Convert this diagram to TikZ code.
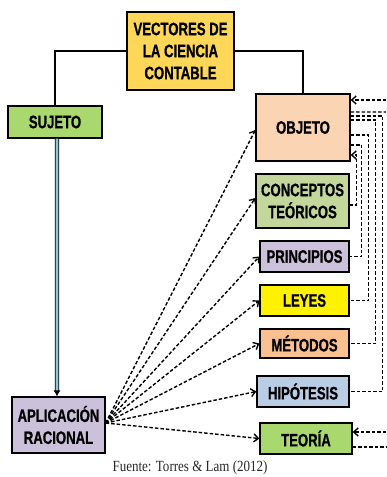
\documentclass[tikz,border=0pt]{standalone}
\usepackage{fontspec}
\setmainfont{Liberation Serif}
\newfontfamily\boxfont{Liberation Sans}[FakeStretch=0.73, FakeBold=0.8]
\newfontfamily\capfont{Liberation Serif}[FakeStretch=0.84]
\usetikzlibrary{arrows.meta,calc}
\definecolor{cgold}{HTML}{FFD758}
\definecolor{cgreen}{HTML}{A9D86E}
\definecolor{clav}{HTML}{CCC1DA}
\definecolor{cpeach}{HTML}{FBD4B4}
\definecolor{colive}{HTML}{C3D69B}
\definecolor{corange}{HTML}{FAC08F}
\definecolor{cblue}{HTML}{B9CDE5}
\definecolor{cstem}{HTML}{93C5D8}
\begin{document}
\begin{tikzpicture}[x=1bp,y=-1bp,
  box/.style={draw=black, line width=1.3bp, inner sep=0pt, align=center,
    font=\boxfont\bfseries\fontsize{18bp}{22bp}\selectfont},
  plain/.style={draw=black, line width=1.2bp},
  dl/.style={draw=black, line width=1.4bp, dash pattern=on 3.5bp off 2bp},
  tip/.style={-{Straight Barb[length=4.5bp,width=8bp]}},
  stem/.style={draw=black, line width=0.8bp, double=cstem, double distance=2.6bp,
    -{Latex[length=6bp,width=7bp]}}
  ]
\useasboundingbox (0,0) rectangle (386,477);

\node[box, fill=cgold, minimum width=107bp, minimum height=78bp] (vec) at (180.5,51) {VECTORES DE\\LA CIENCIA\\CONTABLE};
\node[box, fill=cgreen, minimum width=94bp, minimum height=32bp] (suj) at (55,122) {SUJETO};
\node[box, fill=clav, minimum width=93bp, minimum height=56bp] (apl) at (58.5,425) {APLICACIÓN\\RACIONAL};
\node[box, fill=cpeach, minimum width=94bp, minimum height=67bp] (obj) at (303,127.5) {OBJETO};
\node[box, fill=colive, minimum width=93bp, minimum height=54bp] (con) at (302.5,201) {CONCEPTOS\\TEÓRICOS};
\node[box, fill=clav, minimum width=89bp, minimum height=31bp] (pri) at (304.5,256.5) {PRINCIPIOS};
\node[box, fill=yellow, minimum width=89bp, minimum height=31bp] (ley) at (304.5,300.5) {LEYES};
\node[box, fill=corange, minimum width=89bp, minimum height=29bp] (met) at (304.5,343.5) {MÉTODOS};
\node[box, fill=cblue, minimum width=92bp, minimum height=31bp] (hip) at (303,391.5) {HIPÓTESIS};
\node[box, fill=cgreen, minimum width=92bp, minimum height=31bp] (teo) at (306,438.5) {TEORÍA};
\node[font=\capfont\fontsize{15.5bp}{17bp}\selectfont, text=black!85, inner sep=0pt] (src) at (190,468) {Fuente: Torres \& Lam (2012)};

% top connectors
\draw[plain] (vec.west) -| (suj.north);
\draw[plain] (vec.east) -| (obj.north);
% stem
\draw[stem] ([xshift=2bp]suj.south) -- ([xshift=-1.5bp]apl.north);

% fan
\coordinate (fan) at ([yshift=2bp]apl.east);
\draw[dl,tip] (fan) -- ([yshift=-2.5bp]obj.west);
\draw[dl,tip] (fan) -- ([yshift=3bp]con.west);
\draw[dl,tip] (fan) -- (pri.west);
\draw[dl,tip] (fan) -- (ley.west);
\draw[dl,tip] (fan) -- (met.west);
\draw[dl,tip] (fan) -- (hip.west);
\draw[dl,tip] (fan) -- (teo.west);

% right side
\draw[dl] ([yshift=11.5bp]obj.east) -- ++(32,0) |- (hip.east);
\draw[dl] ([yshift=7.5bp]obj.east) -- ++(25,0) |- (met.east);
\draw[dl] ([yshift=-7.5bp]obj.east) -- ++(18,0) |- (ley.east);
\draw[dl] ([yshift=-17.5bp]obj.east) -- ++(11,0) |- (pri.east);
\draw[dl,tip] ([yshift=-4bp]con.east) -- ++(7,0) |- ([yshift=-27.5bp]obj.east);

\coordinate (e1) at (386,100);
\coordinate (e2) at (386,112);
\coordinate (e3) at (386,432);
\coordinate (e4) at (386,447);
\draw[dl,tip] (e1) -- (e1 -| obj.east);
\draw[dl] ([yshift=15.5bp]obj.east) -- (e2);
\draw[dl,tip] (e3) -- (e3 -| teo.east);
\draw[dl] (teo.east |- e4) -- (e4);
\end{tikzpicture}
\end{document}
